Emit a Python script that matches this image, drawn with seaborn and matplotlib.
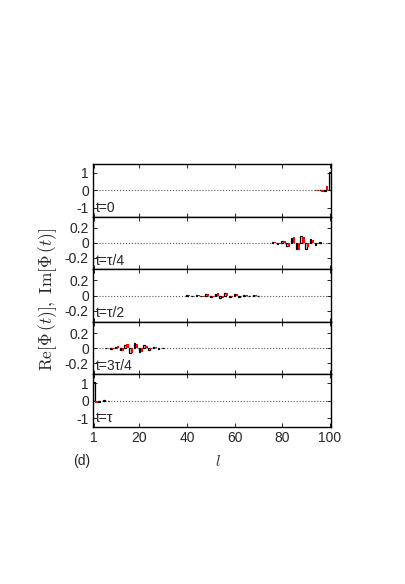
import matplotlib
matplotlib.use("Agg")
import matplotlib.pyplot as plt
import seaborn as sns
import pandas as pd

# panel labels and y ticks
panel_labels = ["t=0", "t=\u03c4/4", "t=\u03c4/2", "t=3\u03c4/4", "t=\u03c4"]
big_ticks = [-1, 0, 1]
small_ticks = [-0.2, 0, 0.2]
x_ticks = [1, 20, 40, 60, 80, 100]

# Re part (black boxes) and Im part (red boxes), per panel: site -> value
re_sites_0 = [94, 96, 98, 100]
re_vals_0 = [0.01, 0.03, -0.06, 1.05]
im_sites_0 = [95, 97, 99]
im_vals_0 = [-0.02, -0.08, 0.25]

re_sites_1 = [76, 78, 80, 82, 84, 86, 88, 90, 92, 94, 96]
re_vals_1 = [0.006, -0.012, 0.022, -0.04, 0.06, -0.085, 0.09, -0.075, 0.05, -0.025, 0.008]
im_sites_1 = [77, 79, 81, 83, 85, 87, 89, 91, 93, 95, 97]
im_vals_1 = [0.008, -0.016, 0.03, -0.05, 0.075, -0.09, 0.085, -0.06, 0.035, -0.015, 0.004]

re_sites_2 = [40, 42, 44, 46, 48, 50, 52, 54, 56, 58, 60, 62, 64, 66, 68, 70]
re_vals_2 = [0.004, -0.006, 0.009, -0.013, 0.017, -0.021, 0.025, -0.028, 0.028, -0.025, 0.021, -0.016, 0.011, -0.007, 0.004, -0.002]
im_sites_2 = [41, 43, 45, 47, 49, 51, 53, 55, 57, 59, 61, 63, 65, 67, 69]
im_vals_2 = [0.005, -0.008, 0.011, -0.015, 0.019, -0.023, 0.027, -0.029, 0.027, -0.023, 0.018, -0.013, 0.009, -0.005, 0.003]

re_sites_3 = [6, 8, 10, 12, 14, 16, 18, 20, 22, 24, 26, 28, 30]
re_vals_3 = [0.004, -0.008, 0.015, -0.028, 0.045, -0.06, 0.065, -0.055, 0.04, -0.024, 0.012, -0.006, 0.003]
im_sites_3 = [7, 9, 11, 13, 15, 17, 19, 21, 23, 25, 27, 29, 31]
im_vals_3 = [0.006, -0.011, 0.021, -0.036, 0.052, -0.064, 0.06, -0.048, 0.032, -0.018, 0.009, -0.004, 0.002]

re_sites_4 = [1, 3, 5, 7]
re_vals_4 = [1.05, -0.05, 0.02, -0.01]
im_sites_4 = [2, 4, 6]
im_vals_4 = [-0.15, -0.04, -0.015]

re_sites = [re_sites_0, re_sites_1, re_sites_2, re_sites_3, re_sites_4]
re_vals = [re_vals_0, re_vals_1, re_vals_2, re_vals_3, re_vals_4]
im_sites = [im_sites_0, im_sites_1, im_sites_2, im_sites_3, im_sites_4]
im_vals = [im_vals_0, im_vals_1, im_vals_2, im_vals_3, im_vals_4]

sns.set_style("ticks")
plt.rcParams['font.family'] = ['Liberation Sans', 'DejaVu Sans']
plt.rcParams['mathtext.fontset'] = 'cm'
plt.rcParams['font.size'] = 10

fig, axes = plt.subplots(5, 1, figsize=(4.06, 5.84), dpi=100, sharex=True,
                         gridspec_kw=dict(hspace=0))
fig.subplots_adjust(left=0.229, right=0.815, top=0.719, bottom=0.269)

for i, ax in enumerate(axes):
    ax.axhline(0, color='#555555', ls=':', lw=0.8, zorder=0)
    re_df = pd.DataFrame({'l': re_sites[i], 'v': re_vals[i]})
    im_df = pd.DataFrame({'l': im_sites[i], 'v': im_vals[i]})
    sns.barplot(data=re_df, x='l', y='v', native_scale=True, width=0.35,
                fill=False, color='black', linewidth=0.9, errorbar=None, ax=ax)
    sns.barplot(data=im_df, x='l', y='v', native_scale=True, width=0.45,
                color='red', saturation=1, linewidth=0, errorbar=None, ax=ax)
    if i in (0, 4):
        ax.set_ylim(-1.5, 1.5)
        ax.set_yticks(big_ticks)
        ax.set_yticklabels(['-1', '0', '1'])
    else:
        ax.set_ylim(-0.35, 0.35)
        ax.set_yticks(small_ticks)
        ax.set_yticklabels(['-0.2', '0', '0.2'])
    ax.set_xlim(0.5, 100.5)
    ax.set_xticks(x_ticks)
    ax.set_xlabel('')
    ax.set_ylabel('')
    ax.tick_params(direction='in', top=True, right=True, length=3,
                   width=0.7, labelsize=10, pad=3)
    for s in ax.spines.values():
        s.set_linewidth(1.0)
        s.set_color('black')
    ax.text(0.012, 0.03, panel_labels[i], transform=ax.transAxes,
            ha='left', va='bottom', fontsize=10)

axes[-1].set_xticklabels([str(t) for t in x_ticks])

fig.text(0.118, 0.487, r'$\mathrm{Re}[\Phi\,(t)],\ \mathrm{Im}[\Phi\,(t)]$',
         rotation=90, ha='center', va='center', fontsize=12.5)
fig.text(0.537, 0.21, r'$l$', ha='center', va='center', fontsize=11)
fig.text(0.202, 0.21, '(d)', ha='center', va='center', fontsize=10)

fig.savefig('out.png', dpi=100)
